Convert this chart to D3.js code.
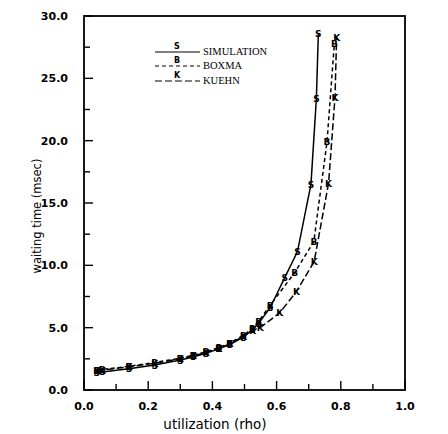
<!DOCTYPE html>
<html>
<head>
<meta charset="utf-8">
<script src="https://cdn.jsdelivr.net/npm/d3@7"></script>
<style>
  body { margin: 0; background: #fff; }
  svg { display: block; }
  text { fill: #000; }
</style>
</head>
<body>
<svg width="448" height="434"></svg>
<script>
"use strict";

// utilization (rho) and waiting time (msec)
var simRho = [0.04, 0.057, 0.14, 0.22, 0.30, 0.34, 0.38, 0.42, 0.454, 0.497, 0.525, 0.544, 0.58, 0.625, 0.665, 0.707, 0.724, 0.73];
var simWait = [1.4, 1.45, 1.7, 2.0, 2.4, 2.65, 2.95, 3.3, 3.65, 4.25, 4.85, 5.35, 6.6, 9.0, 11.1, 16.5, 23.4, 28.6];

var boxRho = [0.04, 0.057, 0.14, 0.22, 0.30, 0.34, 0.38, 0.42, 0.454, 0.497, 0.525, 0.544, 0.58, 0.656, 0.716, 0.757, 0.78];
var boxWait = [1.6, 1.65, 1.9, 2.2, 2.55, 2.8, 3.05, 3.4, 3.75, 4.4, 4.95, 5.5, 6.8, 9.4, 11.9, 19.9, 27.8];

var kueRho = [0.04, 0.057, 0.14, 0.22, 0.30, 0.34, 0.38, 0.42, 0.454, 0.497, 0.525, 0.549, 0.61, 0.662, 0.717, 0.762, 0.782, 0.787];
var kueWait = [1.55, 1.6, 1.85, 2.15, 2.5, 2.75, 3.0, 3.35, 3.7, 4.3, 4.8, 5.0, 6.2, 7.9, 10.3, 16.6, 23.5, 28.3];

var xTickLabels = ["0.0", "0.2", "0.4", "0.6", "0.8", "1.0"];
var yTickLabels = ["0.0", "5.0", "10.0", "15.0", "20.0", "25.0", "30.0"];

var seriesNames = ["SIMULATION", "BOXMA", "KUEHN"];
var seriesMarks = ["S", "B", "K"];
var seriesDash = [null, "4,3", "7,3"];

var xScale = d3.scaleLinear().domain([0, 1]).range([84, 405]);
var yScale = d3.scaleLinear().domain([0, 30]).range([390, 16]);

var svg = d3.select("svg");

// frame
svg.append("rect")
    .attr("x", xScale(0))
    .attr("y", yScale(30))
    .attr("width", xScale(1) - xScale(0))
    .attr("height", yScale(0) - yScale(30))
    .attr("fill", "none")
    .attr("stroke", "#000")
    .attr("stroke-width", 1.8);

// x ticks, pointing inward
var xTicks = d3.range(0, 11).map(function (i) { return i / 10; });
svg.append("g")
    .selectAll("line")
    .data(xTicks)
    .enter()
    .append("line")
    .attr("x1", function (d) { return xScale(d); })
    .attr("x2", function (d) { return xScale(d); })
    .attr("y1", yScale(0))
    .attr("y2", function (d, i) { return yScale(0) - (i % 2 === 0 ? 9 : 6); })
    .attr("stroke", "#000")
    .attr("stroke-width", 1.4);

var yTicks = d3.range(0, 13).map(function (i) { return i * 2.5; });
svg.append("g")
    .selectAll("line")
    .data(yTicks)
    .enter()
    .append("line")
    .attr("x1", xScale(0))
    .attr("x2", function (d, i) { return xScale(0) + (i % 2 === 0 ? 9 : 6); })
    .attr("y1", function (d) { return yScale(d); })
    .attr("y2", function (d) { return yScale(d); })
    .attr("stroke", "#000")
    .attr("stroke-width", 1.4);

// tick labels
svg.append("g")
    .selectAll("text")
    .data(xTickLabels)
    .enter()
    .append("text")
    .attr("x", function (d) { return xScale(+d); })
    .attr("y", 410)
    .attr("text-anchor", "middle")
    .style("font", "bold 11px 'DejaVu Sans'")
    .text(function (d) { return d; });

svg.append("g")
    .selectAll("text")
    .data(yTickLabels)
    .enter()
    .append("text")
    .attr("x", 68)
    .attr("y", function (d) { return yScale(+d) + 4; })
    .attr("text-anchor", "end")
    .style("font", "bold 11px 'DejaVu Sans'")
    .text(function (d) { return d; });

// axis titles
svg.append("text")
    .attr("transform", "translate(41, 216) rotate(-90)")
    .attr("text-anchor", "middle")
    .style("font", "11.5px 'DejaVu Sans'")
    .text("waiting time  (msec)");

svg.append("text")
    .attr("x", 215)
    .attr("y", 429)
    .attr("text-anchor", "middle")
    .style("font", "13.5px 'DejaVu Sans'")
    .text("utilization  (rho)");

// curves
var rhoSets = [simRho, boxRho, kueRho];
var waitSets = [simWait, boxWait, kueWait];

var series = seriesNames.map(function (name, i) {
    return {
        name: name,
        mark: seriesMarks[i],
        dash: seriesDash[i],
        points: rhoSets[i].map(function (r, j) { return [r, waitSets[i][j]]; })
    };
});

var line = d3.line()
    .x(function (d) { return xScale(d[0]); })
    .y(function (d) { return yScale(d[1]); });

svg.append("g")
    .selectAll("path")
    .data(series)
    .enter()
    .append("path")
    .attr("d", function (d) { return line(d.points); })
    .attr("fill", "none")
    .attr("stroke", "#000")
    .attr("stroke-width", 1.5)
    .attr("stroke-dasharray", function (d) { return d.dash; });

// letter markers at the data points
series.forEach(function (s) {
    svg.append("g")
        .selectAll("text")
        .data(s.points)
        .enter()
        .append("text")
        .attr("x", function (d) { return xScale(d[0]); })
        .attr("y", function (d) { return yScale(d[1]) + 3.5; })
        .attr("text-anchor", "middle")
        .style("font", "bold 9px 'DejaVu Sans'")
        .text(s.mark);
});

// legend
var legendY = [50, 64, 79];
var legend = svg.append("g")
    .selectAll("g")
    .data(series)
    .enter()
    .append("g")
    .attr("transform", function (d, i) { return "translate(0," + legendY[i] + ")"; });

legend.append("line")
    .attr("x1", 155)
    .attr("x2", 200)
    .attr("y1", 2)
    .attr("y2", 2)
    .attr("stroke", "#000")
    .attr("stroke-width", 1.2)
    .attr("stroke-dasharray", function (d) { return d.dash; });

legend.append("text")
    .attr("x", 177)
    .attr("y", -1)
    .attr("text-anchor", "middle")
    .style("font", "bold 8px 'DejaVu Sans'")
    .text(function (d) { return d.mark; });

legend.append("text")
    .attr("x", 203)
    .attr("y", 5)
    .style("font", "10.5px 'Liberation Serif'")
    .text(function (d) { return d.name; });
</script>
</body>
</html>
